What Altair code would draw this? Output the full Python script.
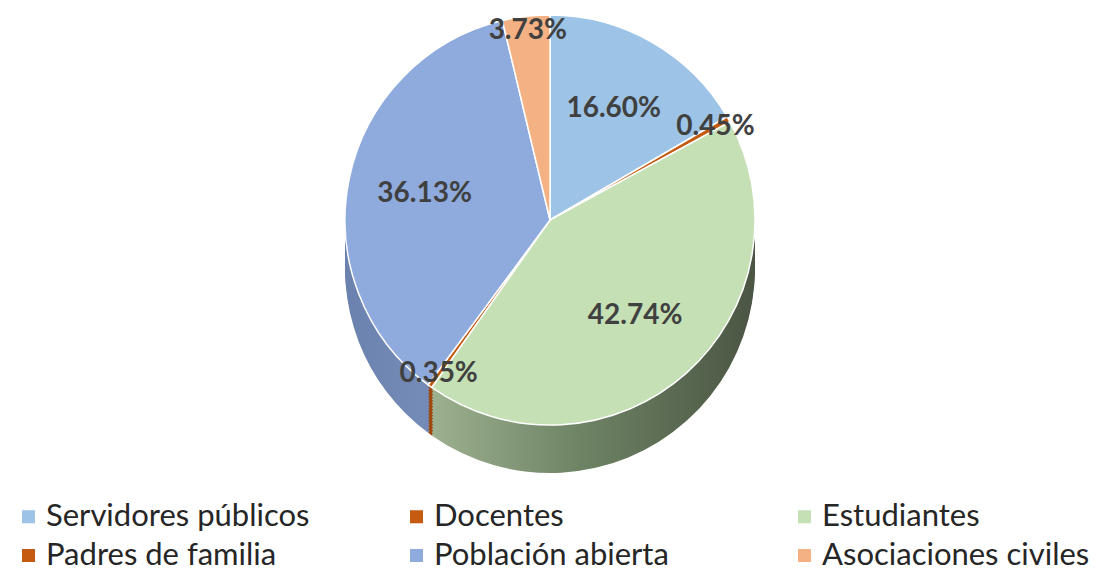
import altair as alt
import pandas as pd

categories = ["Servidores públicos", "Docentes", "Estudiantes",
              "Padres de familia", "Población abierta", "Asociaciones civiles"]
values = [16.60, 0.45, 42.74, 0.35, 36.13, 3.73]
labels = ["16.60%", "0.45%", "42.74%", "0.35%", "36.13%", "3.73%"]
top_colors = ["#9DC3E6", "#C55A11", "#C5E0B4", "#C55A11", "#8FAADC", "#F4B183"]
side_colors = ["#7E9CB8", "#9E480E", "#6F8465", "#9E480E", "#7389B3", "#C38E69"]

df = pd.DataFrame({"cat": categories, "value": values, "label": labels,
                   "order": list(range(len(categories)))})

CX, CY, R, DEPTH = 542, 212, 205, 48
theta_scale = alt.Scale(domain=[0, 100], range=[0, 6.283185307179586])

base = alt.Chart(df).transform_window(
    cum="sum(value)", sort=[{"field": "order"}], frame=[None, 0]
).transform_calculate(
    start="datum.cum - datum.value",
    mid="datum.cum - datum.value / 2"
)

green_grad = alt.Gradient(
    gradient="linear",
    stops=[alt.GradientStop(color="#9DB190", offset=0),
           alt.GradientStop(color="#6F8465", offset=0.45),
           alt.GradientStop(color="#4A5543", offset=1)],
    x1=0, x2=1, y1=0, y2=0,
)
blue_grad = alt.Gradient(
    gradient="linear",
    stops=[alt.GradientStop(color="#6C82AE", offset=0),
           alt.GradientStop(color="#8199C6", offset=1)],
    x1=0, x2=1, y1=0, y2=0,
)

layers = []
for off in range(DEPTH, 0, -3):
    enc = dict(
        theta=alt.Theta("start:Q", scale=theta_scale),
        theta2="cum:Q",
        x=alt.value(CX), y=alt.value(CY + off),
    )
    layers.append(
        base.transform_filter("datum.cat != 'Estudiantes' && datum.cat != 'Población abierta'")
        .mark_arc(outerRadius=R, stroke=None).encode(
            color=alt.Color("cat:N", scale=alt.Scale(domain=categories, range=side_colors), legend=None),
            **enc,
        )
    )
    layers.append(
        base.transform_filter("datum.cat == 'Estudiantes'")
        .mark_arc(outerRadius=R, stroke=None, color=green_grad).encode(**enc)
    )
    layers.append(
        base.transform_filter("datum.cat == 'Población abierta'")
        .mark_arc(outerRadius=R, stroke=None, color=blue_grad).encode(**enc)
    )

top = base.mark_arc(outerRadius=R, stroke="white", strokeWidth=1.5).encode(
    theta=alt.Theta("start:Q", scale=theta_scale),
    theta2="cum:Q",
    x=alt.value(CX), y=alt.value(CY),
    color=alt.Color("cat:N", scale=alt.Scale(domain=categories, range=top_colors),
                    legend=alt.Legend(title=None, orient="none", legendX=5, legendY=493,
                                      direction="horizontal", columns=3, gridAlign="all",
                                      symbolType="square", symbolSize=170,
                                      labelFontSize=31, labelFont="Lato", labelColor="#262626",
                                      columnPadding=87, rowPadding=7, symbolStrokeWidth=0,
                                      labelOffset=2, labelLimit=400)),
)

text_big = base.transform_filter("datum.value > 10").mark_text(
    radius=128, fontSize=28, fontWeight="bold", color="#404040", font="Lato"
).encode(
    theta=alt.Theta("mid:Q", scale=theta_scale),
    x=alt.value(CX), y=alt.value(CY),
    text="label:N",
)
text_small = base.transform_filter("datum.value <= 10").mark_text(
    radius=190, fontSize=28, fontWeight="bold", color="#404040", font="Lato"
).encode(
    theta=alt.Theta("mid:Q", scale=theta_scale),
    x=alt.value(CX), y=alt.value(CY),
    text="label:N",
)

chart = alt.layer(*layers, top, text_big, text_small).resolve_scale(
    color="independent"
).properties(
    width=1100, height=480, padding=0, background="white"
).configure_view(stroke=None)

chart.save("out.html", embed_options={"renderer": "svg", "actions": False})
